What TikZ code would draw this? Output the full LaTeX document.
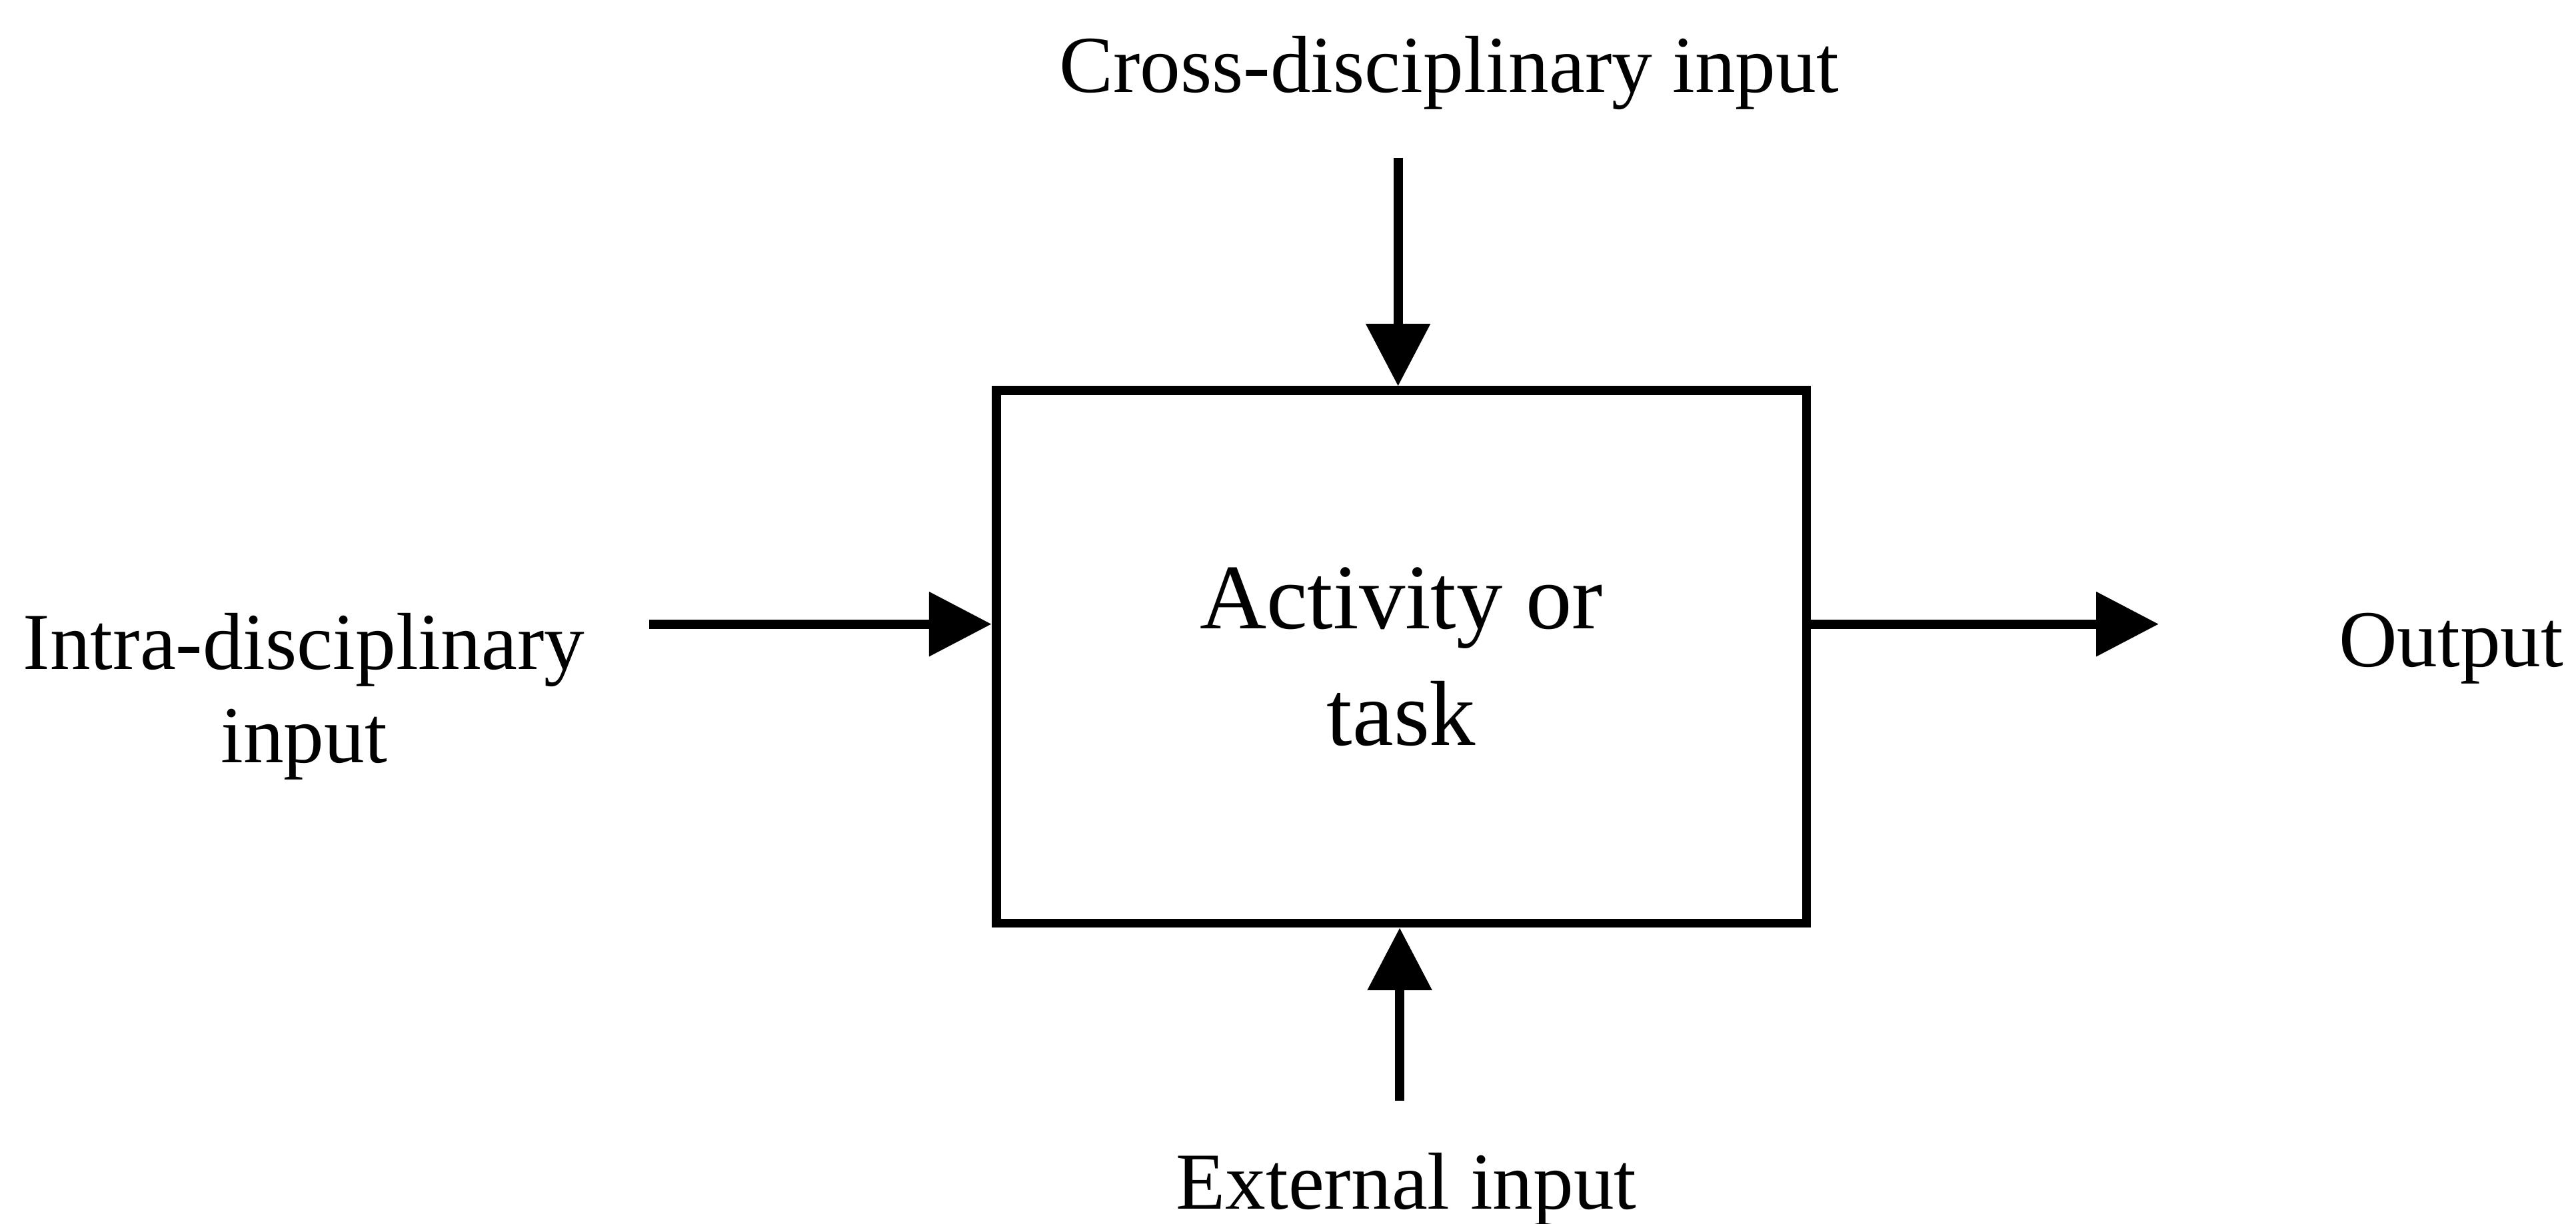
\documentclass[tikz,border=0pt]{standalone}
\usepackage{fontspec}
\setmainfont{Liberation Serif}
\usepackage{tikz}
\usetikzlibrary{arrows.meta}

\begin{document}
\begin{tikzpicture}[x=0.01cm, y=-0.01cm,
  flow/.style={line width=1.6pt, -{Triangle[length=0.38cm, width=0.38cm]}},
  lbl/.style={inner sep=0pt, font=\fontsize{14}{16.2}\selectfont},
  taskbox/.style={draw, line width=1.6pt, minimum width=4.93cm, minimum height=3.24cm, align=center, font=\fontsize{16}{20.2}\selectfont}]
\useasboundingbox (0,0) rectangle (1568,745);
\node[taskbox] (task) at (853,400) {Activity or\\task};
\node[lbl, anchor=base] (cross) at (882,56) {Cross-disciplinary input};
\node[lbl, align=center] (intra) at (185,424) {Intra-disciplinary\\input};
\node[lbl, anchor=base] (output) at (1492,406) {Output};
\node[lbl, anchor=base] (external) at (856,736) {External input};
\coordinate (crossin) at (851,96);
\coordinate (extin) at (852,670);
\coordinate (intrain) at (395,380);
\coordinate (outend) at (1314,380);
\draw[flow] (crossin) -- (crossin |- task.north);
\draw[flow] (extin) -- (extin |- task.south);
\draw[flow] (intrain) -- (intrain -| task.west);
\draw[flow] (task.east |- outend) -- (outend);
\end{tikzpicture}
\end{document}
